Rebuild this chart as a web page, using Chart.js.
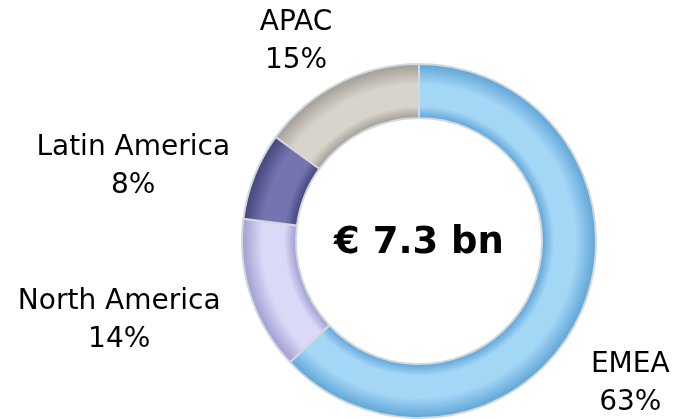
<!DOCTYPE html>
<html>
<head>
<meta charset="utf-8">
<script src="https://cdn.jsdelivr.net/npm/chart.js@4/dist/chart.umd.min.js"></script>
<style>
  html, body { margin: 0; padding: 0; background: #ffffff; }
  #mycanvas { display: block; }
</style>
</head>
<body>
<canvas id="mycanvas" width="675" height="419"></canvas>
<script>
// data
var regions = ["EMEA", "North America", "Latin America", "APAC"];
var shares = [63, 14, 8, 15];
var totalLabel = "€ 7.3 bn";

// colours: middle of the band / edge of the band
var lightColors = ["#a4d6f6", "#dadaf8", "#7474b0", "#d8d4cc"];
var darkColors = ["#5fa5d8", "#9f9fd2", "#45457c", "#a29e96"];

function bandGradient(context) {
	var chart = context.chart;
	var i = context.dataIndex;
	var area = chart.chartArea;
	var ctrl = chart.getDatasetMeta(0).controller;
	if (!area || !ctrl || !ctrl.outerRadius) {
		return lightColors[i];
	}
	var cx = (area.left + area.right) / 2;
	var cy = (area.top + area.bottom) / 2;
	var g = chart.ctx.createRadialGradient(cx, cy, ctrl.innerRadius, cx, cy, ctrl.outerRadius);
	g.addColorStop(0, darkColors[i]);
	g.addColorStop(0.22, lightColors[i]);
	g.addColorStop(0.62, lightColors[i]);
	g.addColorStop(1, darkColors[i]);
	return g;
}

// draws the "name / percent" labels outside the ring and the total in the middle
var ringLabels = {
	id: "ringLabels",
	afterDatasetsDraw: function(chart, args, opts) {
		var ctx = chart.ctx;
		var meta = chart.getDatasetMeta(0);
		ctx.save();
		ctx.fillStyle = "#000000";
		ctx.textAlign = "center";
		ctx.textBaseline = "middle";
		ctx.font = "28px 'DejaVu Sans'";
		meta.data.forEach(function(arc, i) {
			var mid = (arc.startAngle + arc.endAngle) / 2;
			var dx = Math.cos(mid), dy = Math.sin(mid);
			var r = arc.outerRadius + opts.pad;
			var w = Math.max(ctx.measureText(regions[i]).width, ctx.measureText(shares[i] + "%").width);
			var h = opts.lineHeight * 1.6;
			var nudge = opts.nudge[i] || [0, 0];
			var x = arc.x + dx * r + dx * w / 2 + nudge[0];
			var y = arc.y + dy * r + dy * h / 2 + nudge[1];
			ctx.fillText(regions[i], x, y - opts.lineHeight / 2);
			ctx.fillText(shares[i] + "%", x, y + opts.lineHeight / 2);
		});
		var a = meta.data[0];
		ctx.font = "bold 37px 'DejaVu Sans'";
		ctx.fillText(totalLabel, a.x, a.y + 2);
		ctx.restore();
	}
};

var chartdata = {
	labels: regions,
	datasets: [
		{
			data: shares,
			backgroundColor: bandGradient,
			borderColor: "#d3d8dc",
			borderWidth: 2
		}
	]
};

var ctx = document.getElementById("mycanvas");

var RingChart = new Chart(ctx, {
	type: "doughnut",
	data: chartdata,
	plugins: [ringLabels],
	options: {
		responsive: false,
		animation: false,
		cutout: "69.5%",
		layout: {
			padding: { top: 63, bottom: 0, left: 241, right: 78 }
		},
		plugins: {
			legend: { display: false },
			tooltip: { enabled: false },
			ringLabels: {
				pad: 40,
				lineHeight: 38,
				nudge: [[-24, 44], [3, 3], [6, 17], [-8, 21]]
			}
		}
	}
});
</script>
</body>
</html>
